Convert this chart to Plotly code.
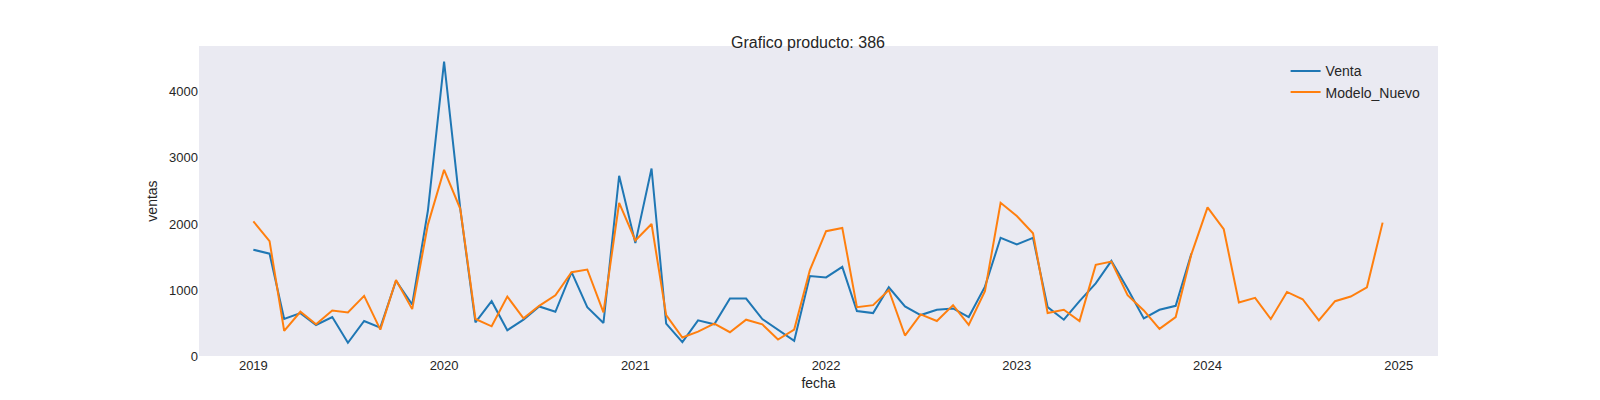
import pandas as pd
import plotly.graph_objects as go

# Datos mensuales
fechas_venta = pd.date_range("2019-01-01", "2023-12-01", freq="MS")
fechas_modelo = pd.date_range("2019-01-01", "2024-12-01", freq="MS")

venta = [
    1610, 1550, 560, 650, 470, 590, 200, 530, 430, 1140, 780, 2200,
    4460, 2230, 510, 830, 390, 550, 750, 670, 1270, 740, 500, 2730,
    1710, 2840, 490, 210, 540, 480, 870, 870, 560, 400, 230, 1210,
    1190, 1350, 680, 650, 1040, 750, 620, 700, 720, 590, 1050, 1790,
    1690, 1790, 740, 550, 830, 1100, 1440, 1020, 570, 700, 760, 1550,
]
modelo_nuevo = [
    2040, 1740, 380, 670, 480, 690, 660, 910, 400, 1150, 710, 1990,
    2820, 2230, 560, 450, 900, 570, 760, 920, 1270, 1310, 660, 2320,
    1750, 2000, 620, 280, 370, 490, 360, 550, 480, 250, 400, 1300,
    1890, 1940, 740, 770, 1000, 310, 630, 530, 770, 470, 980, 2320,
    2120, 1860, 650, 700, 530, 1380, 1430, 920, 690, 410, 590, 1540,
    2250, 1920, 810, 880, 560, 970, 860, 540, 830, 900, 1040, 2020,
]

fig = go.Figure()
fig.add_trace(go.Scatter(x=fechas_venta, y=venta, mode="lines", name="Venta",
                         line=dict(color="#1f77b4", width=2)))
fig.add_trace(go.Scatter(x=fechas_modelo, y=modelo_nuevo, mode="lines", name="Modelo_Nuevo",
                         line=dict(color="#ff7f0e", width=2)))

fig.update_layout(
    width=1600, height=400,
    margin=dict(l=191, r=170, t=38, b=52),
    paper_bgcolor="white", plot_bgcolor="#EAEAF2",
    font=dict(family="Liberation Sans, Arial", size=14, color="#262626"),
    title=dict(text="Grafico producto: 386", x=0.5, xanchor="center", y=0.915, yanchor="middle",
               font=dict(size=16)),
    legend=dict(x=0.99, y=0.97, xanchor="right", yanchor="top", bgcolor="rgba(0,0,0,0)",
                font=dict(size=14)),
    showlegend=True,
)
fig.update_xaxes(
    title=dict(text="fecha", standoff=6, font=dict(size=14)),
    tickfont=dict(size=13),
    range=["2018-09-19", "2025-03-17"],
    tickvals=[f"{a}-01-01" for a in range(2019, 2026)],
    ticktext=[str(a) for a in range(2019, 2026)],
    showgrid=False, zeroline=False, showline=False, ticks="",
)
fig.update_yaxes(
    title=dict(text="ventas", standoff=8, font=dict(size=14)),
    tickfont=dict(size=13),
    range=[0, 4695], tickvals=[0, 1000, 2000, 3000, 4000],
    showgrid=False, zeroline=False, showline=False, ticks="",
)

fig.write_html("out.html")
